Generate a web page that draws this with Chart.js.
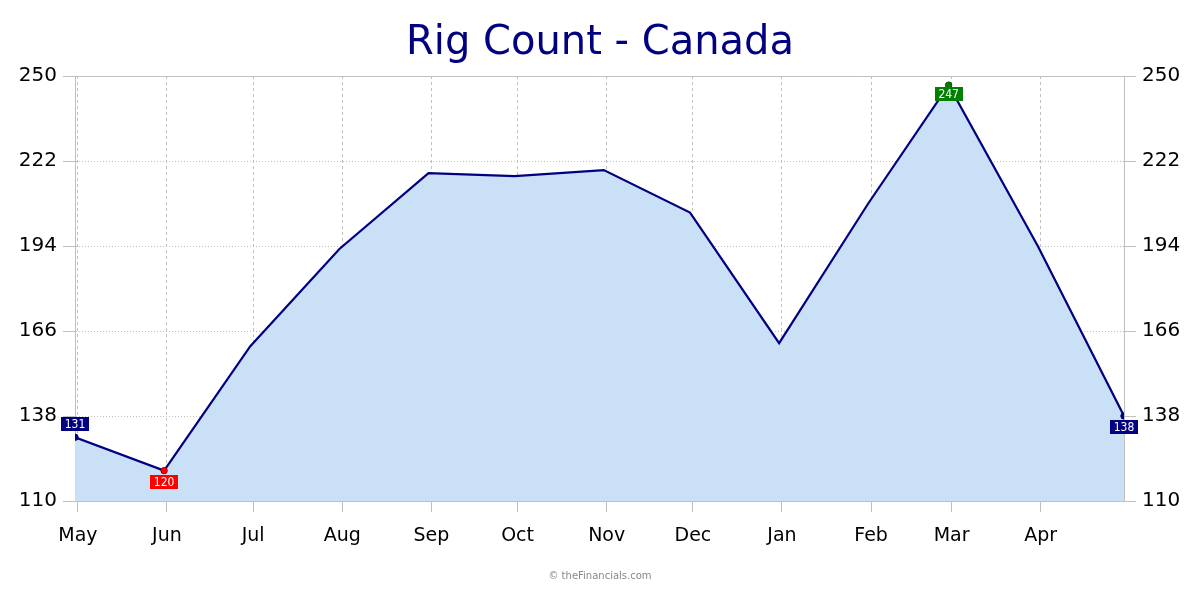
<!DOCTYPE html>
<html>
<head>
<meta charset="utf-8">
<script src="https://cdn.jsdelivr.net/npm/chart.js@4.4.0/dist/chart.umd.min.js"></script>
<style>
  html, body { margin: 0; padding: 0; background: #fff; }
  #wrap { position: relative; width: 1200px; height: 600px; }
</style>
</head>
<body>
<div id="wrap"><canvas id="c" width="1200" height="600"></canvas></div>
<script>
// ---- data ----
const chartTitle = 'Rig Count - Canada';
const pointDates = ['2022-04-30','2022-05-31','2022-06-30','2022-07-31','2022-08-31','2022-09-30','2022-10-31','2022-11-30','2022-12-31','2023-01-31','2023-02-28','2023-03-31','2023-04-30'];
const rigCount = [131, 120, 161, 193, 218, 217, 219, 205, 162, 208, 247, 194, 138];
const monthTickDates = ['2022-05-01','2022-06-01','2022-07-01','2022-08-01','2022-09-01','2022-10-01','2022-11-01','2022-12-01','2023-01-01','2023-02-01','2023-03-01','2023-04-01'];
const monthLabels = ['May','Jun','Jul','Aug','Sep','Oct','Nov','Dec','Jan','Feb','Mar','Apr'];
const yTicks = [110, 138, 166, 194, 222, 250];
const footerText = '\u00A9 theFinancials.com';

// ---- helpers ----
const DAY = 86400000;
const toMs = s => { const [y,m,d] = s.split('-').map(Number); return Date.UTC(y, m - 1, d); };
const origin = toMs(pointDates[0]);
const dayOf = s => Math.round((toMs(s) - origin) / DAY);
const xs = pointDates.map(dayOf);
const tickDays = monthTickDates.map(dayOf);
const points = xs.map((x, i) => ({ x, y: rigCount[i] }));

const minIdx = rigCount.indexOf(Math.min(...rigCount));
const maxIdx = rigCount.indexOf(Math.max(...rigCount));
const lastIdx = rigCount.length - 1;
const NAVY = '#000080';
const markers = {};
markers[0] = { color: NAVY, pos: 'above' };
markers[lastIdx] = { color: NAVY, pos: 'below' };
markers[minIdx] = { color: '#ff0000', pos: 'below', stroke: '#a00000' };
markers[maxIdx] = { color: '#008000', pos: 'below', stroke: '#004d00', gap: 2 };

const FONT = "'DejaVu Sans', Verdana, sans-serif";
const GRID = '#c0c0c0';

const titlePlugin = {
  id: 'titleFooter',
  afterDraw(chart) {
    const ctx = chart.ctx;
    ctx.save();
    ctx.fillStyle = NAVY;
    ctx.font = '40px ' + FONT;
    ctx.textAlign = 'center';
    ctx.textBaseline = 'middle';
    ctx.fillText(chartTitle, 600, 44);
    ctx.fillStyle = '#888888';
    ctx.font = '10px ' + FONT;
    ctx.fillText(footerText, 600, 576);
    ctx.restore();
  }
};

const framePlugin = {
  id: 'frame',
  beforeDatasetsDraw(chart) {
    const { ctx, chartArea: a } = chart;
    ctx.save();
    ctx.strokeStyle = GRID;
    ctx.lineWidth = 1;
    ctx.beginPath();
    ctx.moveTo(a.left, a.top + 0.5);
    ctx.lineTo(a.right, a.top + 0.5);
    ctx.stroke();
    ctx.restore();
  }
};

const labelPlugin = {
  id: 'pointLabels',
  afterDatasetsDraw(chart) {
    const ctx = chart.ctx;
    const xS = chart.scales.x, yS = chart.scales.y;
    ctx.save();
    ctx.font = "12px 'DejaVu Sans Condensed', 'DejaVu Sans', sans-serif";
    ctx.textAlign = 'center';
    ctx.textBaseline = 'middle';
    Object.keys(markers).forEach(k => {
      const i = +k;
      const m = markers[i];
      const px = xS.getPixelForValue(xs[i]);
      const py = yS.getPixelForValue(rigCount[i]);
      const txt = String(rigCount[i]);
      const w = Math.round(ctx.measureText(txt).width) + 7;
      const h = 14;
      const gap = m.gap != null ? m.gap : (m.pos === 'above' ? 6 : 4);
      const top = m.pos === 'above' ? py - gap - h : py + gap;
      const left = Math.round(px - w / 2);
      ctx.fillStyle = m.color;
      ctx.fillRect(left, Math.round(top), w, h);
      ctx.fillStyle = '#ffffff';
      ctx.fillText(txt, px, Math.round(top) + h / 2 + 0.5);
    });
    ctx.restore();
  }
};

new Chart(document.getElementById('c'), {
  type: 'line',
  data: {
    datasets: [{
      data: points,
      borderColor: NAVY,
      borderWidth: 2.2,
      backgroundColor: 'rgb(201,224,247)',
      fill: 'start',
      tension: 0,
      pointRadius: ctx => markers[ctx.dataIndex] ? 3.2 : 0,
      pointHoverRadius: 0,
      pointBackgroundColor: ctx => markers[ctx.dataIndex] ? markers[ctx.dataIndex].color : NAVY,
      pointBorderColor: ctx => markers[ctx.dataIndex] ? (markers[ctx.dataIndex].stroke || NAVY) : NAVY,
      pointBorderWidth: 1
    }]
  },
  options: {
    responsive: false,
    animation: false,
    events: [],
    layout: { padding: { top: 76, left: 0, right: 0, bottom: 0 } },
    plugins: { legend: { display: false }, tooltip: { enabled: false }, title: { display: false } },
    scales: {
      x: {
        type: 'linear',
        min: xs[0],
        max: xs[xs.length - 1],
        afterBuildTicks: s => { s.ticks = tickDays.map(v => ({ value: v })); },
        afterFit: s => { s.height = 99; },
        ticks: {
          autoSkip: false,
          maxRotation: 0,
          padding: 13,
          color: '#000',
          font: { family: FONT, size: 19 },
          callback: (v, i) => monthLabels[i]
        },
        grid: { color: GRID, tickColor: GRID, tickLength: 11, lineWidth: 1 },
        border: { display: true, color: GRID, dash: [3, 3] }
      },
      y: {
        position: 'left',
        min: yTicks[0],
        max: yTicks[yTicks.length - 1],
        afterBuildTicks: s => { s.ticks = yTicks.map(v => ({ value: v })); },
        afterFit: s => { s.width = 75; },
        ticks: { padding: 6, color: '#000', font: { family: FONT, size: 20 } },
        grid: { color: ctx => ctx.tick && ctx.tick.value === yTicks[yTicks.length-1] ? 'rgba(0,0,0,0)' : GRID, tickColor: GRID, tickLength: 12, lineWidth: 1 },
        border: { display: true, color: GRID, dash: [1, 2] }
      },
      y2: {
        position: 'right',
        min: yTicks[0],
        max: yTicks[yTicks.length - 1],
        afterBuildTicks: s => { s.ticks = yTicks.map(v => ({ value: v })); },
        afterFit: s => { s.width = 76; },
        ticks: { padding: 6, color: '#000', font: { family: FONT, size: 20 } },
        grid: { drawOnChartArea: false, color: GRID, tickColor: GRID, tickLength: 12 },
        border: { display: true, color: GRID }
      }
    }
  },
  plugins: [titlePlugin, framePlugin, labelPlugin]
});
</script>
</body>
</html>
